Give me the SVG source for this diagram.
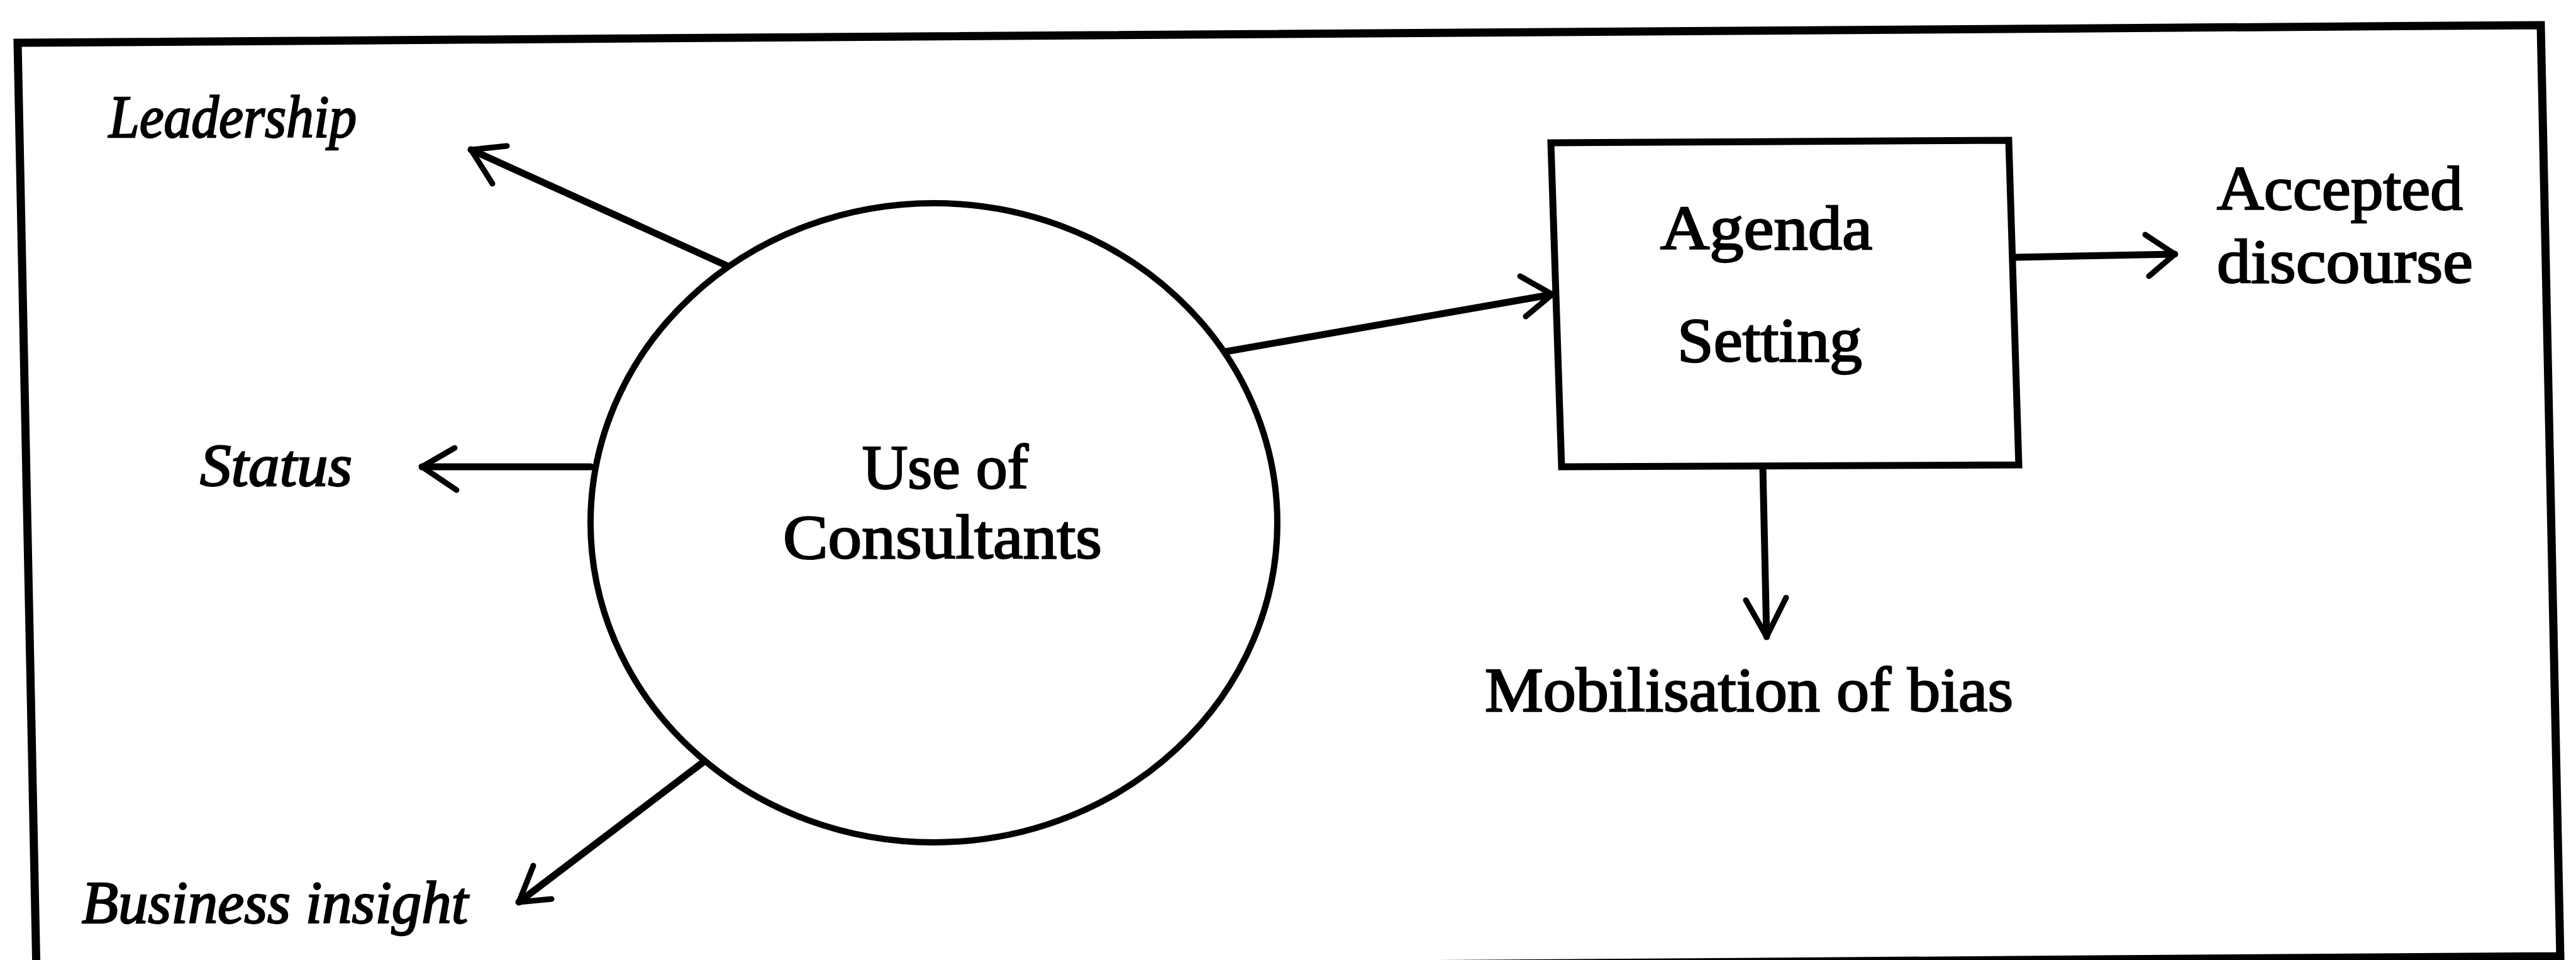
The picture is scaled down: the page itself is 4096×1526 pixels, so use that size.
<svg xmlns="http://www.w3.org/2000/svg" width="4096" height="1526" viewBox="0 0 4096 1526">
<style>
.ln{fill:none;stroke:#000;stroke-width:11;stroke-linecap:round;stroke-linejoin:round}
.hd{fill:none;stroke:#000;stroke-width:9;stroke-linecap:round;stroke-linejoin:round}
.shape{fill:#fff;stroke:#000}
.up{font-family:"Liberation Serif","DejaVu Serif",serif;font-size:100px;fill:#000;stroke:#000;stroke-width:2.5}
.it{font-family:"Liberation Serif","DejaVu Serif",serif;font-style:italic;font-size:96px;fill:#000;stroke:#000;stroke-width:2.5}
</style>
<rect x="0" y="0" width="4096" height="1526" fill="#fff"/>
<g id="frame">
<polygon points="28,68 4040,40 4071,1520 58,1548" fill="none" stroke="#000" stroke-width="13" stroke-linejoin="miter"/>
</g>
<g id="connectors">
<path class="ln" d="M1155,422 L749,238"/>
<path class="hd" d="M806,232 L749,238 L783,292"/>
<path class="ln" d="M939,742 L671,742"/>
<path class="hd" d="M723,712 L671,742 L726,779"/>
<path class="ln" d="M1124,1207 L825,1434"/>
<path class="hd" d="M848,1376 L825,1434 L877,1429"/>
<path class="ln" d="M1937,561 L2468,468"/>
<path class="hd" d="M2417,439 L2468,468 L2426,503"/>
<path class="ln" d="M3205,409 L3458,404"/>
<path class="hd" d="M3411,373 L3458,404 L3417,439"/>
<path class="ln" d="M2803,742 L2809,1012"/>
<path class="hd" d="M2776,954 L2809,1012 L2840,950"/>
</g>
<g id="use-of-consultants">
<ellipse class="shape" cx="1485" cy="831" rx="546" ry="508" stroke-width="10"/>
<text class="up" x="1371" y="776" textLength="264" lengthAdjust="spacingAndGlyphs">Use of</text>
<text class="up" x="1245" y="887" textLength="507" lengthAdjust="spacingAndGlyphs">Consultants</text>
</g>
<g id="agenda-setting">
<polygon class="shape" points="2466,227 3194,223 3210,739 2483,742" stroke-width="11"/>
<text class="up" x="2640" y="396" textLength="337" lengthAdjust="spacingAndGlyphs">Agenda</text>
<text class="up" x="2667" y="574" textLength="294" lengthAdjust="spacingAndGlyphs">Setting</text>
</g>
<g id="leadership">
<text class="it" x="173" y="218" textLength="394" lengthAdjust="spacingAndGlyphs">Leadership</text>
</g>
<g id="status">
<text class="it" x="318" y="772" textLength="242" lengthAdjust="spacingAndGlyphs">Status</text>
</g>
<g id="business-insight">
<text class="it" x="130" y="1467" textLength="614" lengthAdjust="spacingAndGlyphs">Business insight</text>
</g>
<g id="accepted-discourse">
<text class="up" x="3525" y="333" textLength="391" lengthAdjust="spacingAndGlyphs">Accepted</text>
<text class="up" x="3525" y="449" textLength="407" lengthAdjust="spacingAndGlyphs">discourse</text>
</g>
<g id="mobilisation-of-bias">
<text class="up" x="2361" y="1130" textLength="840" lengthAdjust="spacingAndGlyphs">Mobilisation of bias</text>
</g>
</svg>
